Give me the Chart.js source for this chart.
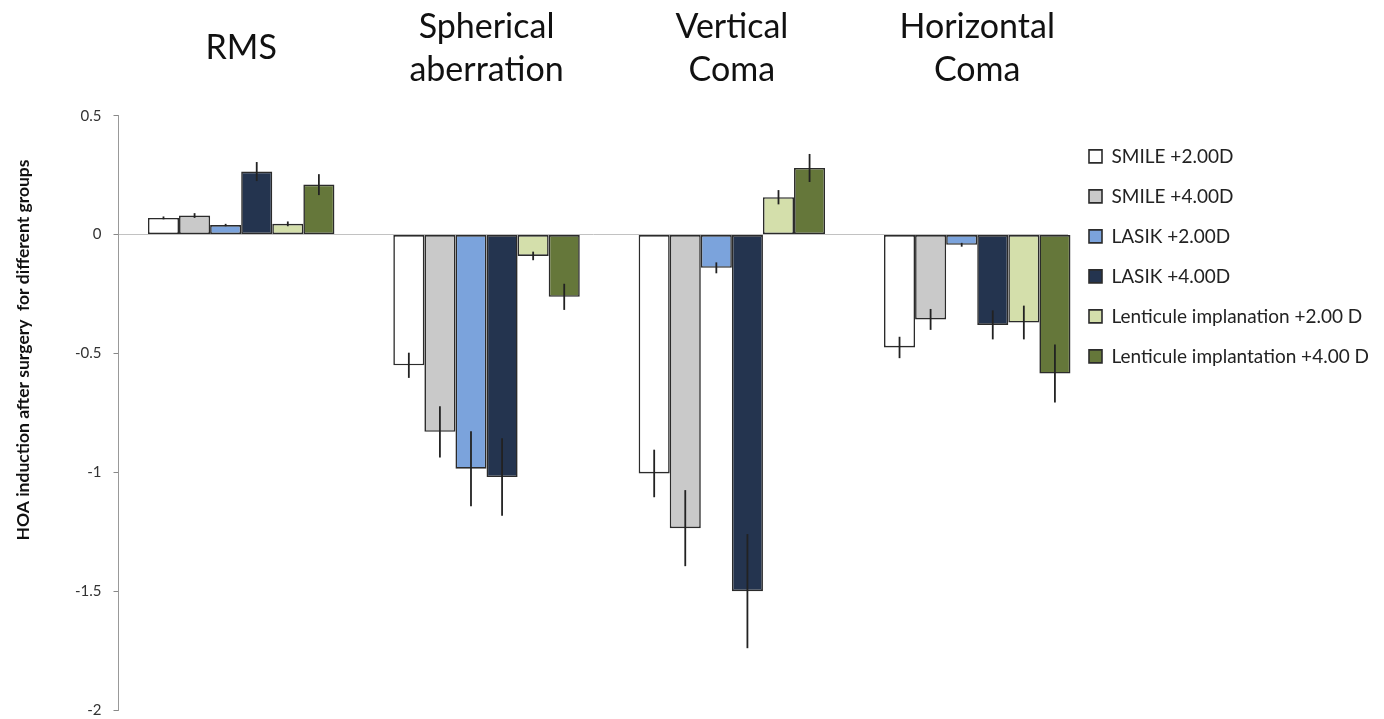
<!DOCTYPE html>
<html>
<head>
<meta charset="utf-8">
<script src="https://cdn.jsdelivr.net/npm/chart.js@4.4.1/dist/chart.umd.min.js"></script>
<style>
  html, body { margin: 0; padding: 0; background: #fff; }
  #wrap { width: 1384px; height: 719px; position: relative; }
</style>
</head>
<body>
<div id="wrap"><canvas id="hoaChart"></canvas></div>
<script>
// --- HOA induction after surgery: grouped bars with error bars ---

const categories = [["RMS"], ["Spherical", "aberration"], ["Vertical", "Coma"], ["Horizontal", "Coma"]];
const groupNames = ["SMILE +2.00D", "SMILE +4.00D", "LASIK +2.00D", "LASIK +4.00D",
  "Lenticule implanation +2.00 D", "Lenticule implantation +4.00 D"];
const groupColors = ["#ffffff", "#c9c9c9", "#7ba3dc", "#24344f", "#d4dfab", "#65773a"];
const yTicks = [-2, -1.5, -1, -0.5, 0, 0.5];
const yTitleText = "HOA induction after surgery  for different groups";

// means, per group, in category order
const smile2 = [0.07, -0.55, -1.005, -0.475];
const smile4 = [0.08, -0.83, -1.235, -0.357];
const lasik2 = [0.04, -0.985, -0.14, -0.043];
const lasik4 = [0.265, -1.02, -1.5, -0.38];
const lent2 = [0.045, -0.09, 0.157, -0.37];
const lent4 = [0.21, -0.262, 0.28, -0.585];

// error bar half-lengths
const smile2Err = [0.006, 0.053, 0.1, 0.045];
const smile4Err = [0.01, 0.108, 0.16, 0.044];
const lasik2Err = [0.005, 0.158, 0.023, 0.008];
const lasik4Err = [0.04, 0.163, 0.24, 0.061];
const lent2Err = [0.01, 0.018, 0.03, 0.071];
const lent4Err = [0.044, 0.055, 0.059, 0.122];

const means = [smile2, smile4, lasik2, lasik4, lent2, lent4];
const errs = [smile2Err, smile4Err, lasik2Err, lasik4Err, lent2Err, lent4Err];

// --- Plugins ---
const errorBars = {
  id: "errorBars",
  afterDatasetsDraw(chart) {
    const { ctx, scales: { y } } = chart;
    ctx.save();
    ctx.strokeStyle = "#222";
    ctx.lineWidth = 1.8;
    chart.data.datasets.forEach((ds, i) => {
      chart.getDatasetMeta(i).data.forEach((bar, j) => {
        const v = ds.data[j].y, e = ds.errors[j];
        ctx.beginPath();
        ctx.moveTo(bar.x, y.getPixelForValue(v - e));
        ctx.lineTo(bar.x, y.getPixelForValue(v + e));
        ctx.stroke();
      });
    });
    ctx.restore();
  }
};

const yTitle = {
  id: "yTitle",
  afterDraw(chart) {
    const { ctx } = chart;
    ctx.save();
    ctx.translate(23, 350);
    ctx.rotate(-Math.PI / 2);
    ctx.font = "bold 17.5px Lato";
    ctx.fillStyle = "#111";
    ctx.textAlign = "center";
    ctx.textBaseline = "middle";
    ctx.fillText(yTitleText, 0, 0);
    ctx.restore();
  }
};

// --- Chart ---
new Chart(document.getElementById("hoaChart"), {
  type: "bar",
  data: {
    datasets: groupNames.map((name, k) => ({
      label: name,
      data: means[k].map((v, i) => ({ x: i, y: v })),
      errors: errs[k],
      backgroundColor: groupColors[k],
      borderColor: "#2b2b2b",
      borderWidth: 1.6,
      borderSkipped: false,
      categoryPercentage: 0.76,
      barPercentage: 1,
      clip: false
    }))
  },
  options: {
    responsive: true,
    maintainAspectRatio: false,
    animation: false,
    layout: { padding: { left: 63, top: -62, right: 5, bottom: 0 } },
    scales: {
      x: {
        type: "linear",
        position: "top",
        min: -0.5,
        max: 3.37,
        offset: false,
        grid: { display: false, drawTicks: false },
        border: { display: false },
        afterBuildTicks: s => { s.ticks = categories.map((c, i) => ({ value: i })); },
        ticks: {
          callback: (v, i) => categories[i],
          font: { family: "Lato", size: 34, lineHeight: 1.26 },
          color: "#111",
          padding: 46,
          maxRotation: 0,
          autoSkip: false,
          crossAlign: "center"
        }
      },
      y: {
        min: -2,
        max: 0.5,
        afterBuildTicks: s => { s.ticks = yTicks.map(v => ({ value: v })); },
        afterFit: s => { s.paddingBottom = 9; s.paddingTop = 9; },
        ticks: { callback: v => String(v), font: { family: "Lato", size: 15 }, color: "#333", padding: 12 },
        grid: {
          color: c => (c.tick && c.tick.value === 0 ? "#c2c2c2" : "rgba(0,0,0,0)"),
          tickColor: "#888",
          tickLength: 5
        },
        border: { color: "#999" }
      }
    },
    plugins: {
      legend: {
        position: "right",
        align: "start",
        fullSize: false,
        title: { display: true, text: " ", font: { size: 1 }, padding: { top: 0, bottom: 9 } },
        labels: { boxWidth: 13, boxHeight: 13, padding: 21, color: "#222", font: { family: "Lato", size: 19 } }
      },
      tooltip: { enabled: false }
    }
  },
  plugins: [errorBars, yTitle]
});
</script>
</body>
</html>
